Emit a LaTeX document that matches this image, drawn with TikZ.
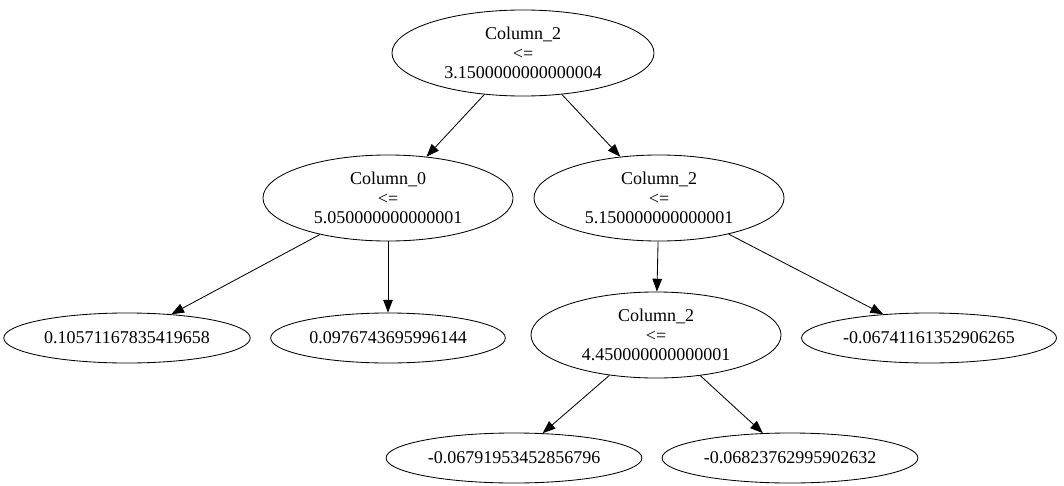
\documentclass[tikz,border=0pt]{standalone}
\usepackage{fontspec}
\setmainfont{Liberation Serif}
\usepackage{tikz}
\usetikzlibrary{shapes}
\usetikzlibrary{arrows.meta}

\begin{document}
\begin{tikzpicture}[x=0.025cm,y=-0.025cm,line width=0.6pt,
  split/.style={draw,ellipse,align=center,minimum width=6.25cm,minimum height=2.15cm,inner sep=1pt,
    font=\fontsize{12.8pt}{13.6pt}\selectfont},
  leaf/.style={draw,ellipse,inner xsep=3pt,minimum height=1.25cm,font=\fontsize{12.8pt}{13.6pt}\selectfont},
  edge/.style={-{Triangle[length=0.32cm,width=0.24cm]}}]
\useasboundingbox (0,0) rectangle (1064,486);
\node[split,minimum width=6.55cm] (root) at (523,53) {Column\_2\\<=\\3.1500000000000004};
\node[split] (c0) at (388,198) {Column\_0\\<=\\5.050000000000001};
\node[split] (c2a) at (659,198) {Column\_2\\<=\\5.150000000000001};
\node[leaf] (l1) at (127,338) {0.10571167835419658};
\node[leaf] (l2) at (388,338) {0.0976743695996144};
\node[split] (c2b) at (656,335) {Column\_2\\<=\\4.450000000000001};
\node[leaf] (l3) at (929,338) {-0.06741161352906265};
\node[leaf] (l4) at (514,458) {-0.06791953452856796};
\node[leaf] (l5) at (790,458) {-0.06823762995902632};
\draw[edge] (root) -- (c0);
\draw[edge] (root) -- (c2a);
\draw[edge] (c0) -- (l1);
\draw[edge] (c0) -- (l2);
\draw[edge] (c2a) -- (c2b);
\draw[edge] (c2a) -- (l3);
\draw[edge] (c2b) -- (l4);
\draw[edge] (c2b) -- (l5);
\end{tikzpicture}
\end{document}
